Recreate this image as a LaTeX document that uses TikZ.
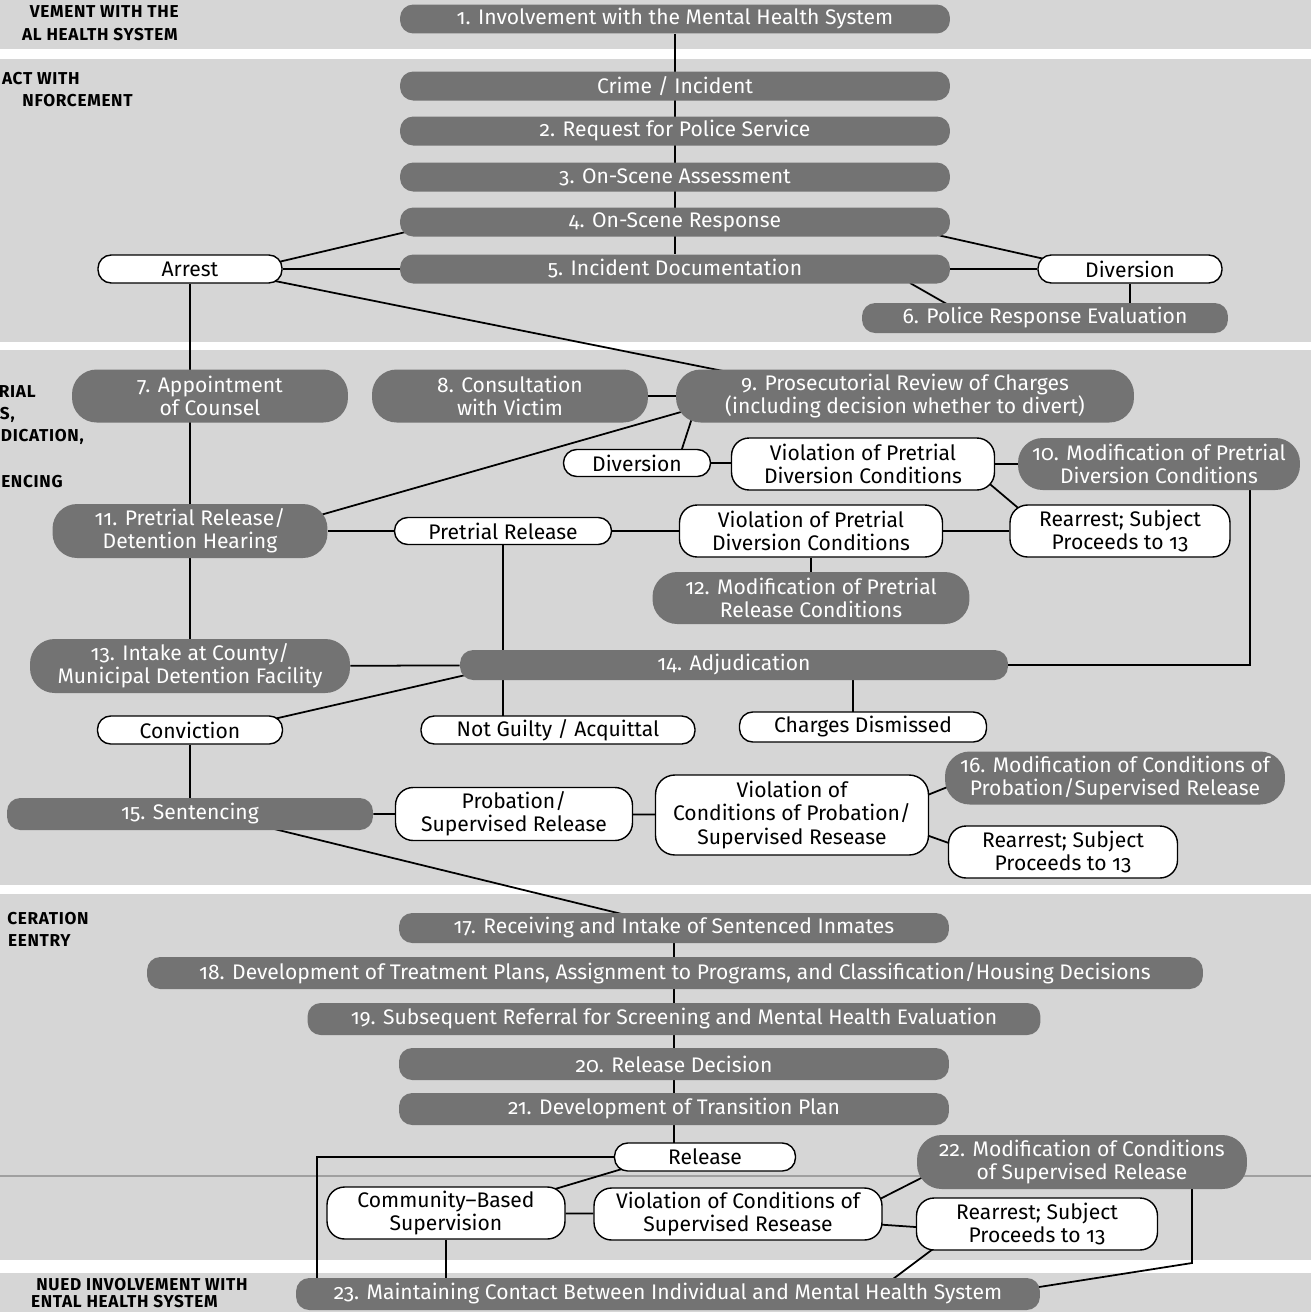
\documentclass[tikz,border=0pt]{standalone}
\usepackage{fontspec}
\setmainfont{Fira Sans}[Numbers=OldStyle]
\newfontfamily\phasefont{Fira Sans}[LetterSpace=4]
\usepackage{tikz}
\usetikzlibrary{calc}
\definecolor{paper}{HTML}{D6D6D6}
\definecolor{stagefill}{HTML}{737373}
\definecolor{rulegray}{HTML}{A0A0A0}
\pgfdeclarelayer{bg}
\pgfdeclarelayer{edges}
\pgfsetlayers{bg,edges,main}
\newcommand{\nodefont}{\fontsize{12}{13.2}\selectfont}

\begin{document}
\begin{tikzpicture}[
  x=0.02cm, y=-0.02cm,
  stage/.style={rectangle, rounded corners=7.5pt, fill=stagefill, text=white, inner sep=0pt, align=center, font=\nodefont, minimum width=11cm, minimum height=0.58cm},
  stagetwo/.style={stage, rounded corners=14pt, minimum height=1.06cm},
  outcome/.style={rectangle, rounded corners=7.5pt, draw=black, line width=0.8pt, fill=white, inner sep=0pt, align=center, font=\nodefont, minimum height=0.56cm},
  outcometwo/.style={outcome, rounded corners=10pt, minimum height=1.04cm},
  link/.style={line width=1pt},
  phase/.style={anchor=east, inner sep=0pt, font=\phasefont\bfseries\fontsize{9.8}{12}\selectfont}
]
\useasboundingbox (0,0) rectangle (1311,1312);

% paper and section bands
\begin{pgfonlayer}{bg}
\fill[paper] (0,0) rectangle (1311,1312);
\fill[white] (0,49) rectangle (1311,59);
\fill[white] (0,342) rectangle (1311,350);
\fill[white] (0,885) rectangle (1311,894);
\fill[white] (0,1260) rectangle (1311,1273);
\draw[rulegray, line width=0.6pt] (0,1176) -- (1311,1176);
\end{pgfonlayer}

% section labels (cut at the left edge)
\node[phase] (lab1a) at (179,12) {VEMENT WITH THE};
\node[phase] (lab1b) at (178,35) {AL HEALTH SYSTEM};
\node[phase] (lab2a) at (80,79) {ACT WITH};
\node[phase] (lab2b) at (133,101) {NFORCEMENT};
\node[phase] (lab3a) at (36,392) {RIAL};
\node[phase] (lab3b) at (15,415) {S,};
\node[phase] (lab3c) at (84,437) {DICATION,};
\node[phase] (lab3d) at (63,482) {ENCING};
\node[phase] (lab4a) at (89,919) {CERATION};
\node[phase] (lab4b) at (71,941) {EENTRY};
\node[phase] (lab5a) at (248,1285) {NUED INVOLVEMENT WITH};
\node[phase] (lab5b) at (218,1302) {ENTAL HEALTH SYSTEM};

% mental health system and law enforcement
\node[stage] (n1) at (675,19) {1. Involvement with the Mental Health System};
\node[stage] (crime) at (675,86) {Crime / Incident};
\node[stage] (n2) at (675,131) {2. Request for Police Service};
\node[stage] (n3) at (675,177) {3. On-Scene Assessment};
\node[stage] (n4) at (675,222) {4. On-Scene Response};
\node[stage] (n5) at (675,269) {5. Incident Documentation};
\node[outcome, minimum width=3.68cm] (arrest) at (190,269) {Arrest};
\node[outcome, minimum width=3.68cm] (polDiv) at (1130,269) {Diversion};
\node[stage, minimum width=7.32cm, minimum height=0.6cm] (n6) at (1045,318) {6. Police Response Evaluation};

% pretrial, adjudication, sentencing
\node[stagetwo, minimum width=5.52cm] (n7) at (210,396) {7. Appointment\\of Counsel};
\node[stagetwo, minimum width=5.52cm] (n8) at (510,396) {8. Consultation\\with Victim};
\node[stagetwo, minimum width=9.16cm] (n9) at (905,396) {9. Prosecutorial Review of Charges\\(including decision whether to divert)};
\node[outcome, minimum width=2.94cm, minimum height=0.54cm] (preDiv) at (637,463) {Diversion};
\node[outcometwo, minimum width=5.26cm] (vpd1) at (863,464) {Violation of Pretrial\\Diversion Conditions};
\node[stagetwo, minimum width=5.64cm, minimum height=1.04cm] (n10) at (1159,464) {10. Modification of Pretrial\\Diversion Conditions};
\node[stagetwo, minimum width=5.5cm, minimum height=1.08cm] (n11) at (190,531) {11. Pretrial Release/\\Detention Hearing};
\node[outcome, minimum width=4.34cm, minimum height=0.54cm] (prel) at (503,531) {Pretrial Release};
\node[outcometwo, minimum width=5.26cm] (vpd2) at (811,531) {Violation of Pretrial\\Diversion Conditions};
\node[outcometwo, minimum width=4.4cm] (rr1) at (1120,531) {Rearrest; Subject\\Proceeds to 13};
\node[stagetwo, minimum width=6.34cm, minimum height=1.04cm] (n12) at (811,598) {12. Modification of Pretrial\\Release Conditions};
\node[stagetwo, minimum width=6.4cm, minimum height=1.08cm] (n13) at (190,666) {13. Intake at County/\\Municipal Detention Facility};
\node[stage, minimum width=10.96cm, minimum height=0.6cm] (n14) at (734,665) {14. Adjudication};
\node[outcome, minimum width=3.7cm] (conv) at (190,730) {Conviction};
\node[outcome, minimum width=5.48cm] (ng) at (558,730) {Not Guilty / Acquittal};
\node[outcome, minimum width=4.94cm, minimum height=0.6cm] (cd) at (863,727) {Charges Dismissed};
\node[stage, minimum width=7.32cm, minimum height=0.64cm] (n15) at (190,814) {15. Sentencing};
\node[outcometwo, minimum width=4.74cm, minimum height=1.06cm] (prob) at (514,814) {Probation/\\Supervised Release};
\node[outcometwo, rounded corners=11pt, minimum width=5.46cm, minimum height=1.6cm] (vcp) at (792,815) {Violation of\\Conditions of Probation/\\Supervised Resease};
\node[stagetwo, minimum width=6.8cm] (n16) at (1115,778) {16. Modification of Conditions of\\Probation/Supervised Release};
\node[outcometwo, minimum width=4.58cm] (rr2) at (1063,852) {Rearrest; Subject\\Proceeds to 13};

% incarceration and reentry
\node[stage, minimum height=0.6cm] (n17) at (674,928) {17. Receiving and Intake of Sentenced Inmates};
\node[stage, minimum width=21.12cm, minimum height=0.64cm] (n18) at (675,973) {18. Development of Treatment Plans, Assignment to Programs, and Classification/Housing Decisions};
\node[stage, minimum width=14.66cm, minimum height=0.64cm] (n19) at (674,1019) {19. Subsequent Referral for Screening and Mental Health Evaluation};
\node[stage, minimum height=0.64cm] (n20) at (674,1064) {20. Release Decision};
\node[stage, minimum height=0.64cm] (n21) at (674,1109) {21. Development of Transition Plan};
\node[outcome, minimum width=3.62cm] (rel) at (705,1157) {Release};
\node[outcometwo, minimum width=4.76cm] (cbs) at (446,1213) {Community--Based\\Supervision};
\node[outcometwo, minimum width=5.76cm] (vcs) at (738,1214) {Violation of Conditions of\\Supervised Resease};
\node[stagetwo, minimum width=6.6cm, minimum height=1.08cm] (n22) at (1082,1162) {22. Modification of Conditions\\of Supervised Release};
\node[outcometwo, minimum width=4.82cm] (rr3) at (1037,1224) {Rearrest; Subject\\Proceeds to 13};
\node[stage, minimum width=14.88cm, minimum height=0.64cm] (n23) at (668,1294) {23. Maintaining Contact Between Individual and Mental Health System};

% connectors, behind the boxes
\begin{pgfonlayer}{edges}
\draw[link] (n1) -- (n5);
\draw[link] (arrest) -- (n5) -- (polDiv);
\draw[link] ($(arrest)+(80,-5)$) -- ($(n4)+(-265,9)$);
\draw[link] ($(arrest)+(80,11)$) -- ($(n9)+(-157,-20)$);
\draw[link] (arrest) -- (n13);
\draw[link] ($(n4)+(240,8)$) -- ($(polDiv)+(-72,-7)$);
\draw[link] ($(n5)+(235,14)$) -- ($(n6)+(-93,-11)$);
\draw[link] (polDiv) -- (polDiv |- n6);

\draw[link] (n8) -- (n9);
\draw[link] ($(n11)+(120,-13)$) -- ($(n9)+(-210,12)$);
\draw[link] ($(n9)+(-212,19)$) -- ($(preDiv)+(42,-5)$);
\draw[link] (preDiv) -- (preDiv -| vpd1);
\draw[link] (vpd1) -- (n10);
\draw[link] ($(vpd1)+(115,10)$) -- ($(rr1)+(-90,-13)$);
\draw[link] (n11) -- (prel) -- (vpd2) -- (rr1);
\draw[link] (vpd2) -- (n12);
\draw[link] ($(n10)+(91,0)$) |- (n14);
\draw[link] (prel) -- (prel |- ng);
\draw[link] (n13) -- (n14);
\draw[link] ($(n14)+(-264,9)$) -- ($(conv)+(75,-9)$);
\draw[link] ($(cd)+(-10,0)$) -- ($(cd |- n14)+(-10,0)$);
\draw[link] (conv) -- (conv |- n15);
\draw[link] (n15) -- (prob) -- (vcp);
\draw[link] ($(vcp)+(123,-15)$) -- ($(n16)+(-155,4)$);
\draw[link] ($(vcp)+(123,16)$) -- ($(rr2)+(-103,-5)$);
\draw[link] ($(n15)+(72,12)$) -- ($(n17)+(-44,-12)$);

\draw[link] (n17) -- (n17 |- rel);
\draw[link] (rel) -| ($(n23.west)+(21,0)$);
\draw[link] ($(cbs)+(89,-18)$) -- ($(rel)+(-73,9)$);
\draw[link] (cbs) -- (vcs);
\draw[link] ($(vcs)+(132,-10)$) -- ($(n22)+(-147,9)$);
\draw[link] ($(vcs)+(134,10)$) -- ($(rr3)+(-107,4)$);
\draw[link] ($(rr3)+(-92,16)$) -- ($(n23)+(217,-9)$);
\coordinate (n22drop) at ($(n22)+(110,101)$);
\draw[link] ($(n22)+(110,0)$) -- (n22drop) -- ($(n23)+(352,-4)$);
\draw[link] (cbs) -- (cbs |- n23);
\end{pgfonlayer}
\end{tikzpicture}
\end{document}
